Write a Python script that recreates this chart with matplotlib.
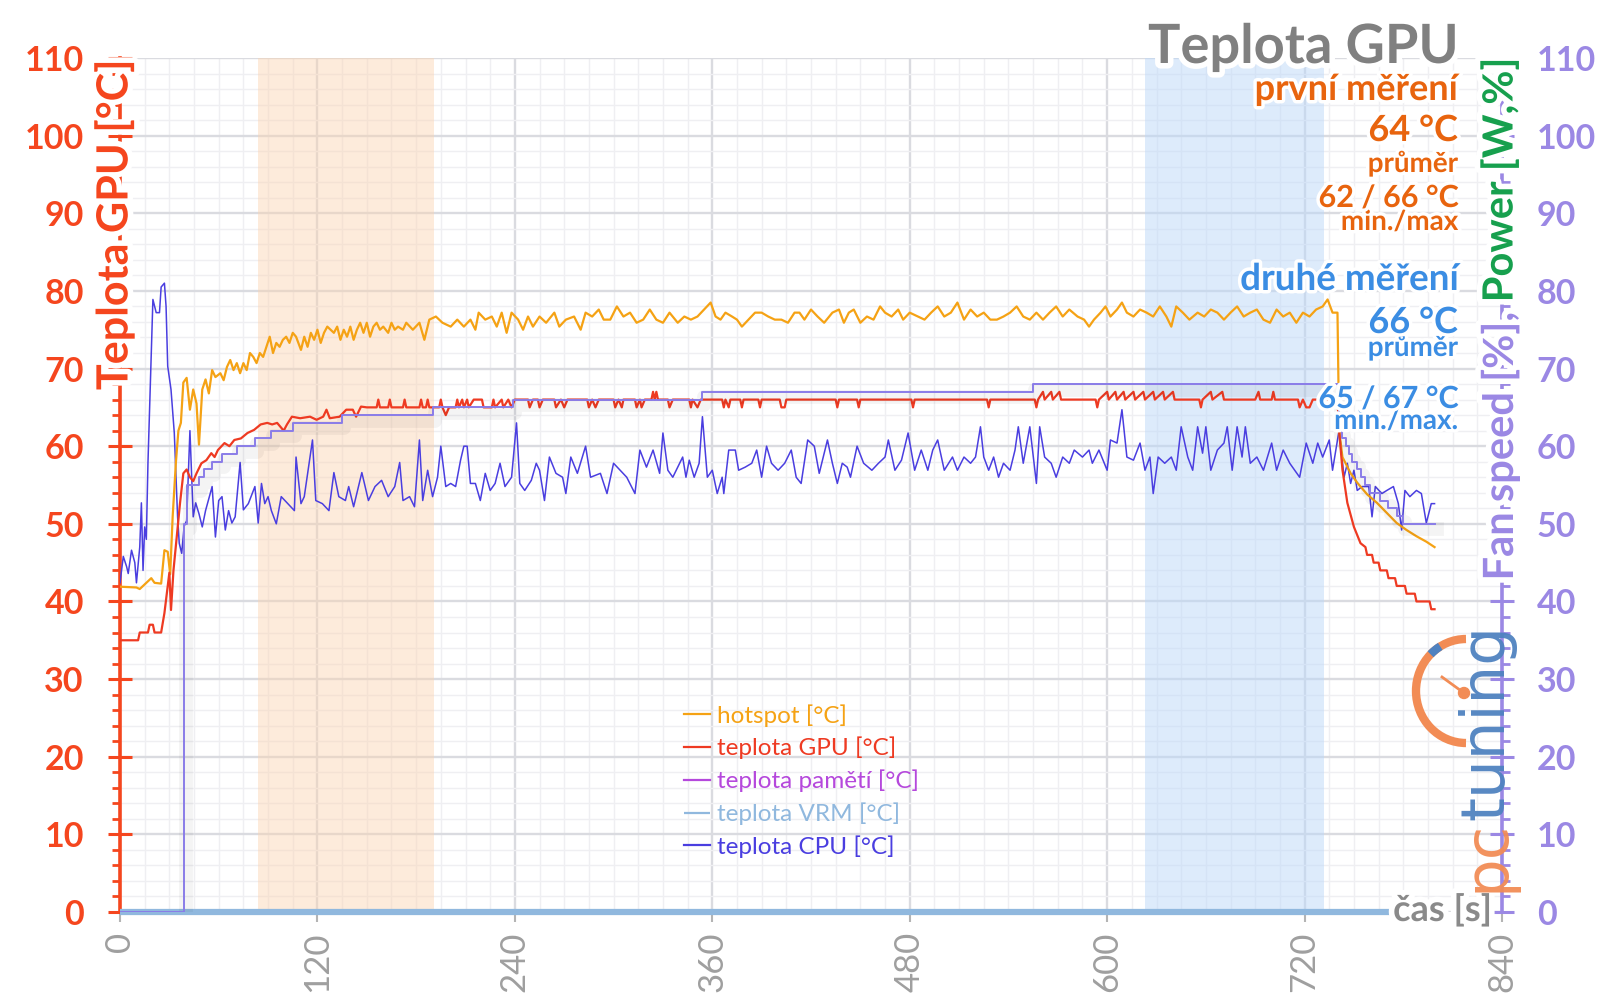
import matplotlib
matplotlib.use("Agg")
import matplotlib.pyplot as plt
import matplotlib.patheffects as pe
from matplotlib.patches import Arc, Circle
from matplotlib.lines import Line2D
from matplotlib.transforms import IdentityTransform
from matplotlib.ticker import MultipleLocator

plt.rcParams['font.family'] = ['Lato', 'DejaVu Sans']

# ---------------- data (time [s], value) ----------------
HOTSPOT = [(0,41.9),(10,41.8),(12,41.6),(17,42.6),(19,43.0),(21,42.4),(25,42.3),(27,46.6),(29,46.4),(30.5,43.5),
 (32,50.9),(34,58),(35.5,62),(37,63),(38.5,68.2),(40.5,68.8),(42.5,64.7),(44.5,67.3),(46.5,65.5),(48,60.2),(50,67.3),
 (52,68.6),(54,66.8),(56,69.8),(58,68.9),(61,69.4),(63,68.5),(65,70.2),(67,71.1),(69,69.8),(71,70.7),(73,69.4),(75,70.7),
 (77,69.8),(79,72.0),(81,71.5),(83,70.7),(85,72.0),(87,71.5),(89,72.8),(91,74.1),(93,72.0),(95,73.3),(97,72.8),(99,73.7),
 (101,74.1),(103,73.3),(105,74.6),(107,74.1),(110,72.4),(112,74.1),(114,72.8),(116,74.6),(118,73.7),(120,75.0),(122,73.3),
 (124,74.6),(126,75.4),(128,75.0),(130,74.6),(132,75.4),(134,73.7),(136,75.0),(138,74.1),(140,75.4),(142,73.7),(144,75.0),
 (146,75.9),(148,74.6),(150,75.9),(152,74.1),(154,75.4),(156,75.9),(158,75.0),(160,75.4),(163,74.6),(165,75.9),(167,75.0),
 (169,75.4),(172,75.0),(174,75.9),(178,75.0),(182,75.9),(185,73.7),(188,76.3),(192,76.7),(196,75.9),(201,75.4),(205,76.3),
 (209,75.4),(213,76.3),(216,75.0),(218,77.2),(222,76.3),(226,76.7),(229,75.4),(232,77.2),(235,74.6),(238,77.2),(242,76.3),
 (245,75.0),(248,76.7),(251,75.4),(255,76.7),(259,75.9),(264,77.2),(267,75.4),(271,76.3),(276,76.7),(280,75.0),(283,77.2),
 (287,76.7),(291,77.6),(294,76.3),(298,76.3),(302,78.0),(306,76.7),(310,77.2),(314,75.9),(318,76.3),(322,77.6),(326,76.3),
 (330,75.9),(334,77.2),(339,75.9),(343,76.7),(347,76.3),(351,76.7),(355,77.6),(359,78.5),(362,76.7),(365,76.3),(368,77.2),
 (372,76.7),(375,76.3),(378,75.4),(382,76.3),(386,77.2),(390,77.2),(394,76.7),(398,76.3),(402,76.3),(406,75.9),(410,77.2),
 (413,77.2),(416,76.3),(420,77.6),(424,76.7),(428,75.9),(433,77.2),(437,77.6),(440,75.9),(443,77.2),(446,77.6),(450,75.9),
 (454,76.7),(458,76.3),(462,78.0),(465,77.2),(469,76.7),(473,77.6),(476,76.3),(480,77.2),(485,76.7),(489,76.3),(493,77.2),
 (497,78.0),(501,76.7),(505,77.2),(509,78.5),(513,76.3),(517,77.6),(521,76.7),(525,77.2),(529,76.3),(533,76.3),(537,76.7),
 (541,77.2),(545,78.0),(549,76.7),(553,76.3),(557,77.2),(561,76.3),(565,77.2),(569,78.0),(573,76.7),(577,77.6),(582,76.7),
 (586,76.3),(589,75.4),(592,76.3),(596,77.2),(599,78.0),(602,76.7),(606,77.6),(609,78.5),(612,77.2),(616,76.7),(620,77.6),
 (624,77.2),(628,76.7),(632,78.0),(636,76.7),(639,75.4),(642,78.0),(646,77.2),(650,76.3),(655,77.2),(659,76.7),(663,77.6),
 (667,77.2),(671,76.3),(675,77.2),(679,78.0),(683,76.7),(687,77.2),(691,77.6),(695,76.3),(699,75.9),(703,77.6),(707,76.7),
 (711,77.2),(715,75.9),(719,77.2),(723,76.7),(727,77.6),(731,78.0),(734,78.9),(737,77.2),(740,77.2),(741,62.0),(743,58.6),
 (748,56.5),(752,55.3),(758,53.8),(764,52.7),(770,51.4),(776,50.1),(782,49.2),(788,48.4),(794,47.7),(799,47.0)]

GPU = [(0,35),(11,35),(12,36),(17,36),(18,37),(20,37),(21,36),(25,36),(27,38.5),(29,42),(30,43.7),(31,38.9),(32.5,44),
 (34.5,48.3),(36.5,52.7),(38.5,56.5),(40.5,57),(42.5,56),(44.5,55.5),(46.5,56.5),(49.5,57.8),(52.5,58.2),(55.5,59.1),
 (57.5,58.6),(59.5,59.5),(63.5,60.4),(66.5,60),(69.5,60.8),(73.5,61),(77.5,61.7),(81.5,62.1),(85.5,62.8),(89.5,63),
 (92.5,62.8),(95.5,63),(99.5,62),(101.5,62.8),(104.5,63.8),(109.5,63.6),(115.5,63.8),(119.5,63.4),(123.5,63.8),(125.5,64.7),
 (127.5,63.6),(133.5,63.8),(137.5,64.7),(141.5,64.7),(143.5,63.8),(146.5,65.1),(150,65),(156,65),(157,66),(158,65),(163,65),
 (164,66),(165,65),(172,65),(173,66),(174,65),(182,65),(183,66),(184,65),(186,65),(187,66),(188,65),(194,65),(195,66),
 (196,65),(198,64),(200,65),(204,65),(205,66),(206,65),(208,66),(209,65),(211,66),(212,65),(215,66),(216,66),(220,66),
 (221,65),(226,65),(227,66),(228,65),(232,66),(233,65),(236,66),(238,65),(240,66),(248,66),(249,65),(251,66),(254,66),
 (255,65),(257,66),(264,66),(265,65),(268,66),(270,65),(272,66),(284,66),(285,65),(287,66),(289,65),(291,66),(300,66),
 (301,65),(303,66),(305,65),(306,66),(313,66),(314,65),(316,66),(317,65),(319,66),(323,66),(324,67),(325,66),(326,67),
 (327,66),(333,66),(334,65),(336,66),(346,66),(347,65),(348,66),(351,65),(353,66),(366,66),(367,65),(368,66),(370,65),
 (371,66),(377,66),(378,65),(379,66),(388,66),(389,65),(390,66),(401,66),(402,65),(404,65),(405,66),(435,66),(436,65),
 (437,66),(448,66),(449,65),(450,66),(481,66),(482,65),(483,66),(527,66),(528,65),(529,66),(556,66),(557,65),(558,66),
 (561,67),(562,66),(566,67),(567,66),(571,67),(572,66),(593,66),(594,65),(595,66),(600,67),(601,66),(605,67),(606,66),
 (610,67),(611,66),(616,67),(617,66),(622,67),(623,66),(628,67),(629,66),(634,67),(635,66),(640,67),(641,66),(656,66),
 (657,65),(658,66),(663,67),(664,66),(670,67),(671,66),(690,66),(692,67),(693,66),(700,66),(701,67),(702,66),(716,66),
 (717,65),(719,66),(721,65),(723,65),(725,66),(738,66),(740,66),(741,62),(743,57),(746,52.7),(750,49.6),(754,47.5),
 (757,47),(758,46),(761,46),(762,45),(765,45),(766,44),(770,44),(771,43),(775,43),(776,42),(781,42),(782,41),(787,41),
 (788,40),(796,40),(797,39),(799,39)]

MEMORY = []                      # teplota pamětí – no readings visible
VRM = [(0, 0), (799, 0)]         # teplota VRM – reads 0 for the whole run

CPU = [(0,42.4),(2,45.8),(4,44.5),(5,43.6),(7,46.6),(9,45.0),(10,42.4),(12,47.0),(13,52.7),(14,44.0),(15,49.6),(16,48.0),
 (17,57.9),(20,78.9),(22,77.2),(24,77.2),(25,80.5),(27,81.0),(28,78.0),(29,70.3),(31,67.3),(33,61.7),(35,50.9),(36,47.5),
 (37.5,46.2),(39,49.7),(40.5,50.4),(42.5,62.0),(44.5,50.9),(46,52.7),(48,51.3),(50,49.6),(52,51.7),(56,54.8),(58,48.3),
 (60,53.0),(62,53.5),(64,49.2),(66,51.7),(68,50.1),(70,50.9),(73,57.9),(75,51.8),(78,52.6),(82,54.8),(84,50.1),(86,55.2),
 (88,52.6),(90,53.5),(92,51.7),(95,50.0),(98,53.5),(102,52.6),(106,51.7),(107,58.6),(110,52.6),(112,53.5),(117,60.8),
 (119,53.0),(123,52.6),(127,51.7),(130,56.6),(133,53.5),(137,53.0),(139,54.8),(142,52.2),(147,56.6),(151,53.0),(155,54.8),
 (159,55.6),(163,53.5),(167,54.8),(170,57.9),(172,53.0),(176,53.5),(179,52.2),(182,60.8),(184,53.0),(187,56.9),(190,53.5),
 (193,56.0),(195,60.0),(198,54.8),(201,55.2),(204,54.8),(207,58.2),(209,60.0),(211,60.0),(213,55.2),(216,55.2),(219,53.0),
 (222,56.5),(225,54.3),(228,55.2),(231,57.8),(234,54.8),(238,56.0),(241,63.0),(243,55.2),(246,54.3),(250,55.6),(253,57.8),
 (255,56.9),(258,53.0),(261,58.6),(265,56.5),(269,56.0),(271,53.9),(274,58.6),(278,56.5),(283,60.0),(286,56.0),(292,56.5),
 (296,53.9),(300,57.8),(304,56.9),(308,56.0),(313,53.9),(316,59.5),(320,57.3),(324,59.5),(328,56.5),(330,61.7),(333,56.9),
 (336,56.0),(342,58.6),(344,56.0),(346,58.2),(349,56.0),(352,57.8),(354,63.8),(357,56.0),(360,56.9),(363,53.9),(366,56.0),
 (367,53.9),(370,59.5),(374,59.5),(376,56.9),(380,57.3),(384,57.8),(387,59.5),(390,56.0),(393,60.0),(396,57.8),(400,56.9),
 (404,57.8),(408,59.5),(411,56.0),(414,55.2),(418,60.8),(422,60.0),(425,56.5),(430,60.8),(433,57.8),(436,55.2),(439,57.8),
 (442,57.3),(444,56.0),(448,60.0),(452,57.8),(457,56.9),(461,57.8),(465,58.6),(467,60.8),(471,56.9),(475,58.2),(479,61.7),
 (483,56.9),(487,59.5),(491,56.9),(494,59.5),(497,60.8),(501,56.9),(506,58.6),(509,56.9),(513,58.6),(517,57.8),(520,58.6),
 (523,62.5),(525,58.6),(528,56.9),(531,58.6),(534,56.0),(537,57.8),(541,56.9),(544,59.5),(546,62.5),(549,57.8),(553,62.5),
 (557,55.2),(559,62.5),(562,58.6),(566,57.8),(569,56.0),(573,58.6),(577,57.8),(580,59.5),(585,58.6),(589,59.5),(591,57.8),
 (595,59.5),(600,56.9),(602,60.8),(606,60.4),(609,64.7),(612,58.6),(616,58.2),(620,60.4),(623,56.9),(626,58.6),(628,53.9),
 (631,58.6),(635,57.8),(639,58.6),(642,56.9),(645,62.5),(649,58.6),(652,56.9),(655,62.5),(658,59.1),(660,62.5),(663,56.9),
 (667,59.5),(671,60.4),(673,62.5),(676,56.9),(679,62.5),(682,58.6),(684,62.5),(687,57.8),(691,58.6),(695,56.9),(700,60.4),
 (703,56.9),(707,59.5),(711,57.8),(717,56.0),(721,60.4),(725,57.8),(728,60.4),(731,58.6),(735,60.8),(737,56.9),(741,62.1),
 (744,56.0),(746,57.8),(748,55.2),(750,56.9),(752,54.3),(755,54.8),(759,54.8),(761,50.9),(763,54.8),(767,53.9),(770,54.3),
 (774,54.8),(777,52.6),(779,49.2),(781,54.3),(784,53.5),(788,54.3),(791,53.9),(794,50.1),(797,52.6),(799,52.6)]

FAN_T = [0, 39, 41, 48, 51, 56, 62, 71, 82, 92, 105, 135, 190, 239, 354, 555, 741, 743, 745, 747, 749, 752, 754, 757, 760, 766, 771, 776, 780, 799]
FAN_V = [0, 50, 55, 56, 57, 58, 59, 60, 61, 62, 63, 64, 65, 66, 67, 68, 62, 61, 60, 59, 58, 57, 56, 55, 54, 53, 52, 51, 50, 50]

BAND_FIRST = (84, 191)
BAND_SECOND = (623, 732)
X_TICKS = [0, 120, 240, 360, 480, 600, 720, 840]
Y_TICKS = list(range(0, 111, 10))

TITLE = "Teplota GPU"
FIRST = ["první měření", "64 °C", "průměr", "62 / 66 °C", "min./max"]
SECOND = ["druhé měření", "66 °C", "průměr", "65 / 67 °C", "min./max."]

# ---------------- style ----------------
W, H = 1600, 1008
RED = '#f5461e'
LAV = '#9b88e4'
GREEN = '#17a04e'
C_HOT = '#f5a214'
C_GPU = '#ee3a22'
C_MEM = '#b548dc'
C_VRM = '#90b8de'
C_CPU = '#4a3ee0'
C_FAN = '#8a7ce8'
ORANGE_TXT = '#e8640e'
BLUE_TXT = '#3b8de3'
GREY = '#808080'

glow = [pe.withStroke(linewidth=8, foreground='white')]
glow_s = [pe.withStroke(linewidth=5, foreground='white')]

fig = plt.figure(figsize=(W / 100, H / 100), dpi=100)
L, R, T, B = 120, 1502, 58, 912
ax = fig.add_axes([L / W, 1 - B / H, (R - L) / W, (B - T) / H])
ax2 = ax.twinx()

def unzip(pairs):
    return [p[0] for p in pairs], [p[1] for p in pairs]

ax.set_xlim(0, 840)
ax.set_ylim(0, 110)
ax2.set_ylim(0, 110)

ax.axvspan(*BAND_FIRST, color='#fbd3b0', alpha=0.45, lw=0, zorder=0.6)
ax.axvspan(*BAND_SECOND, color='#bcd8f9', alpha=0.5, lw=0, zorder=0.6)

ax.set_axisbelow(True)
ax.xaxis.set_minor_locator(MultipleLocator(15))
ax.yaxis.set_minor_locator(MultipleLocator(2))
ax.grid(which='major', color='#dadbe0', lw=1.7)
ax.grid(which='minor', color='#efeff2', lw=1.0)

hx, hy = unzip(HOTSPOT)
gx, gy = unzip(GPU)
mx, my = unzip(MEMORY)
vx, vy = unzip(VRM)
cx, cy = unzip(CPU)

l_vrm, = ax.plot(vx, vy, color=C_VRM, lw=4.5, clip_on=False, zorder=3, solid_capstyle='butt', label='teplota VRM [°C]')
ax2.plot(FAN_T, FAN_V, color=C_FAN, lw=1.4, drawstyle='steps-post', zorder=2,
         path_effects=[pe.SimpleLineShadow(offset=(1.5, -4), shadow_color='black', alpha=0.045, linewidth=10), pe.Normal()])
l_cpu, = ax.plot(cx, cy, color=C_CPU, lw=1.1, zorder=3, label='teplota CPU [°C]')
l_hot, = ax.plot(hx, hy, color=C_HOT, lw=1.6, zorder=4, label='hotspot [°C]')
l_gpu, = ax.plot(gx, gy, color=C_GPU, lw=1.6, zorder=4, label='teplota GPU [°C]')
l_mem, = ax.plot(mx, my, color=C_MEM, lw=1.6, zorder=4, label='teplota pamětí [°C]')

# spines
for s in ['top', 'right', 'bottom']:
    ax.spines[s].set_visible(False)
for s in ['top', 'left', 'bottom']:
    ax2.spines[s].set_visible(False)
ax.spines['left'].set_color(RED)
ax.spines['left'].set_linewidth(2.6)
ax2.spines['right'].set_color(LAV)
ax2.spines['right'].set_linewidth(2.6)

# y ticks
ax.set_yticks(Y_TICKS)
ax.tick_params(axis='y', which='major', direction='inout', length=17, width=2.2, colors=RED, labelsize=24.5, pad=17.5)
ax.tick_params(axis='y', which='minor', direction='out', length=6, width=2.0, colors=RED)
for t in ax.get_yticklabels():
    t.set_fontweight('bold')
ax2.set_yticks(Y_TICKS)
ax2.yaxis.set_minor_locator(MultipleLocator(2))
ax2.tick_params(axis='y', which='major', direction='inout', length=17, width=2.2, colors=LAV, labelsize=24.5, pad=16.5)
ax2.tick_params(axis='y', which='minor', direction='out', length=6, width=2.0, colors=LAV)
for t in ax2.get_yticklabels():
    t.set_fontweight('bold')

# x ticks
ax.set_xticks(X_TICKS)
ax.set_xticklabels([str(v) for v in X_TICKS], rotation=90, fontweight='normal')
ax.tick_params(axis='x', which='major', direction='out', length=7, width=1.5, colors='#b4b4b4',
               labelcolor='#9f9f9f', labelsize=25, pad=7)
ax.tick_params(axis='x', which='minor', length=0)

# legend
leg = ax.legend(handles=[l_hot, l_gpu, l_mem, l_vrm, l_cpu], loc='upper left',
                bbox_to_anchor=(684 / W, 1 - 704 / H), bbox_transform=fig.transFigure,
                frameon=False, fontsize=17.5, labelcolor='linecolor', handlelength=1.05,
                handletextpad=0.3, labelspacing=0.42, borderpad=0, borderaxespad=0)
for h in leg.legend_handles:
    h.set_linewidth(1.6)

def ftext(x, y, s, **kw):
    return fig.text(x / W, 1 - y / H, s, **kw)

# title and stats
ftext(1458, 63, TITLE, ha='right', va='baseline', fontsize=39, fontweight='bold', color=GREY, path_effects=glow, zorder=10)
ys1 = [100, 141, 172, 207, 230]
fs1 = [26, 26, 20, 22, 20]
zs = [11, 12, 10, 12, 10]
for s, y, f, z in zip(FIRST, ys1, fs1, zs):
    ftext(1458, y, s, ha='right', va='baseline', fontsize=f, fontweight='bold', color=ORANGE_TXT, path_effects=glow_s, zorder=z)
ys2 = [290, 333, 356, 408, 429]
fs2 = [26.5, 26, 20, 22, 20]
for s, y, f, z in zip(SECOND, ys2, fs2, zs):
    ftext(1458, y, s, ha='right', va='baseline', fontsize=f, fontweight='bold', color=BLUE_TXT, path_effects=glow_s, zorder=z)

# axis labels
ftext(114, 60, "Teplota GPU [°C]", rotation=90, ha='center', va='top', fontsize=31, fontweight='bold',
      color=RED, path_effects=glow, zorder=10)
ftext(1492, 910, "čas [s]", ha='right', va='center', fontsize=26, fontweight='bold', color='#8a8a8a',
      path_effects=glow, zorder=10)

# logo
tr = IdentityTransform()
fig.add_artist(Arc((1466, H - 691), 100, 104, theta1=90, theta2=270, lw=6, color='#f28c55', transform=tr, zorder=9))
fig.add_artist(Arc((1466, H - 691), 100, 104, theta1=120, theta2=134, lw=6, color='#4f82c0', transform=tr, zorder=9))
fig.add_artist(Line2D([1464, 1442], [H - 693, H - 677], lw=2, color='#f28c55', transform=tr, zorder=9))
fig.add_artist(Circle((1464, H - 693), 5.5, color='#f28c55', transform=tr, zorder=9))
pc = ftext(1487, 892, "pc", rotation=90, ha='center', va='bottom', fontsize=44,
           family='DejaVu Sans', color='#f28c55', alpha=0.95, zorder=11)

power = ftext(1500, 58, "Power [W,%]", rotation=90, ha='center', va='top', fontsize=30, fontweight='bold',
              color=GREEN, path_effects=glow, zorder=10)

fig.canvas.draw()
rend = fig.canvas.get_renderer()
bb_pc = pc.get_window_extent(rend)
fig.text(1487 / W, bb_pc.y1 / H, "tuning", rotation=90, ha='center', va='bottom', fontsize=44,
         family='DejaVu Sans', color='#4f82c0', alpha=0.95, zorder=9)
bb_pw = power.get_window_extent(rend)
fig.text(1500 / W, bb_pw.y0 / H, "Fan speed [%], ", rotation=90, ha='center', va='top', fontsize=30,
         fontweight='bold', color=LAV, path_effects=glow, zorder=10)

fig.savefig("out.png", dpi=100)
